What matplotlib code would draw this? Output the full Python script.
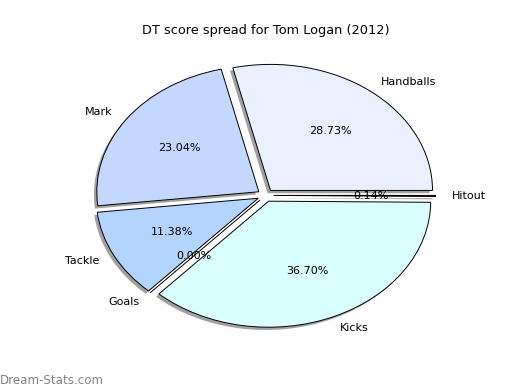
import matplotlib
matplotlib.use("Agg")
import matplotlib.pyplot as plt
from matplotlib.patches import Shadow

labels = ['Handballs', 'Mark', 'Tackle', 'Goals', 'Kicks', 'Hitout']
values = [28.73, 23.04, 11.38, 0.00, 36.70, 0.14]
colors = ['#eaf0ff', '#c4d8ff', '#b3d4ff', '#ffffff', '#d9ffff', '#e0e0ff']
explode = [0.05, 0.05, 0.05, 0.05, 0.05, 0.05]

fig = plt.figure(figsize=(5.2, 3.9), dpi=100)
ax = fig.add_axes([0.121, 0.095, 0.779, 0.808])
wedges, texts, autotexts = ax.pie(values, labels=labels, colors=colors, explode=explode,
                                  autopct='%1.2f%%', shadow=False, startangle=0,
                                  wedgeprops=dict(edgecolor='black', linewidth=0.7),
                                  textprops=dict(fontsize=8))
for w in wedges:
    s = Shadow(w, -0.013, -0.016, facecolor='#555555', edgecolor='none', alpha=0.55)
    s.set_zorder(w.get_zorder() - 0.1)
    ax.add_patch(s)
ax.set_aspect('auto')
ax.set_xlim(-1.25, 1.25)
ax.set_ylim(-1.25, 1.25)
ax.set_title('DT score spread for Tom Logan (2012)', fontsize=9.3, pad=3)
fig.text(0.0, 0.015, 'Dream-Stats.com', fontsize=8.6, color='#858585')
fig.savefig('out.png', dpi=100)
